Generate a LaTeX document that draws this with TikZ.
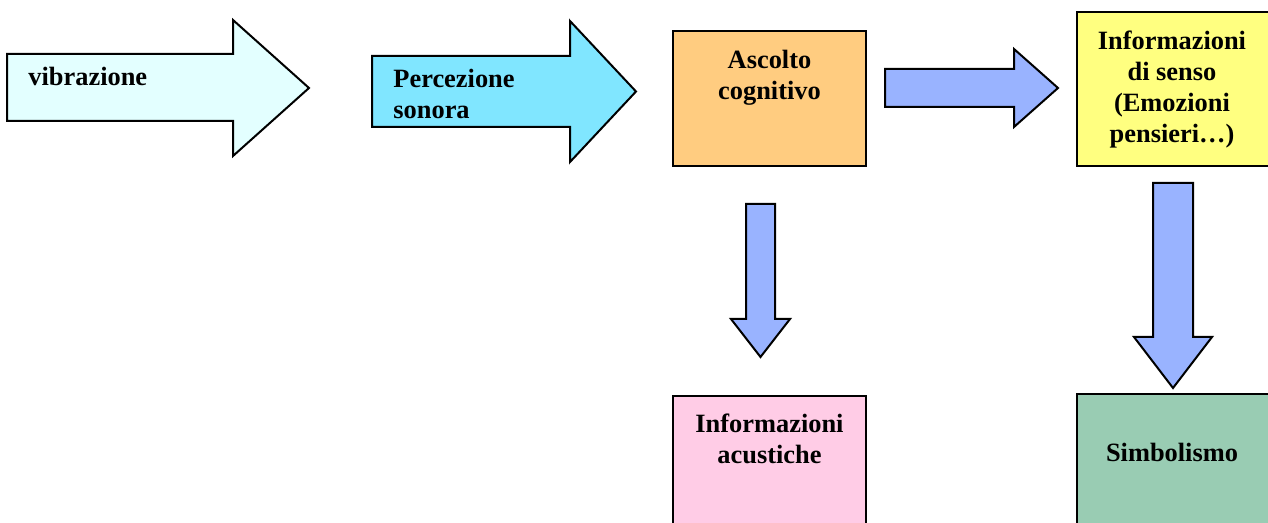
\documentclass[tikz,border=0pt]{standalone}
\usepackage{fontspec}
\setmainfont{Liberation Serif}
\usetikzlibrary{calc}
\newlength\unitpx
\setlength\unitpx{0.5pt}
\definecolor{palecyan}{RGB}{227,255,255}
\definecolor{skycyan}{RGB}{128,230,255}
\definecolor{periwinkle}{RGB}{153,179,255}
\definecolor{peach}{RGB}{255,204,128}
\definecolor{paleyellow}{RGB}{255,255,128}
\definecolor{palepink}{RGB}{255,204,230}
\definecolor{seagreen}{RGB}{153,204,179}
\tikzset{
%Define font for all the texts
stage text/.style={font=\bfseries\fontsize{13.2}{15.5}\selectfont, inner sep=0pt, align=center},
%Define style for the coloured boxes
stage box/.style={draw, line width=1pt, rectangle, inner sep=0pt, minimum width=193\unitpx, minimum height=135\unitpx},
%Define style for the block arrows
block arrow/.style={draw, line width=1pt},
}

\begin{document}
\begin{tikzpicture}[x=0.5pt,y=-0.5pt]
\useasboundingbox (0,0) rectangle (1268,523);
\clip (0,0) rectangle (1268,523);
% Draw the two big arrows with text
\draw[block arrow, fill=palecyan] (7,54) -- (233,54) -- (233,20) -- (309,88) -- (233,156) -- (233,121) -- (7,121) -- cycle;
\node[stage text, anchor=base west] (vibtext) at (28,86) {vibrazione};
\draw[block arrow, fill=skycyan] (372,56) -- (570,56) -- (570,21) -- (636,91.5) -- (570,162) -- (570,127) -- (372,127) -- cycle;
\node[stage text, align=left, anchor=north west] (perctext) at (393,68.5) {Percezione\\sonora};
% Draw the boxes
\node[stage box, fill=peach] (ascolto) at (769.5,98.5) {};
\node[stage box, fill=paleyellow, minimum height=154\unitpx] (senso) at (1173.5,89) {};
\node[stage box, fill=palepink] (acustiche) at (769.5,464) {};
\node[stage box, fill=seagreen] (simbolismo) at (1173.5,461.5) {};
\node[stage text, anchor=north] (ascoltotext) at ($(ascolto.north)+(0,20)$) {Ascolto\\cognitivo};
\node[stage text, anchor=north] (sensotext) at ($(senso.north)+(-1.5,20)$) {Informazioni\\di senso\\(Emozioni\\pensieri…)};
\node[stage text, anchor=north] (acustichetext) at ($(acustiche.north)+(0,18)$) {Informazioni\\acustiche};
\node[stage text, anchor=base] (simbolismotext) at ($(simbolismo.north)+(-1.5,68)$) {Simbolismo};
% Draw the blue arrows between the boxes
\draw[block arrow, fill=periwinkle] (885,69) -- (1014,69) -- (1014,49) -- (1058,88) -- (1014,127) -- (1014,107) -- (885,107) -- cycle;
\draw[block arrow, fill=periwinkle] (746,204) -- (775,204) -- (775,319) -- (790,319) -- (760.5,357) -- (731,319) -- (746,319) -- cycle;
\draw[block arrow, fill=periwinkle] (1153,183) -- (1193,183) -- (1193,337) -- (1212,337) -- (1173,388) -- (1134,337) -- (1153,337) -- cycle;
\end{tikzpicture}
\end{document}
